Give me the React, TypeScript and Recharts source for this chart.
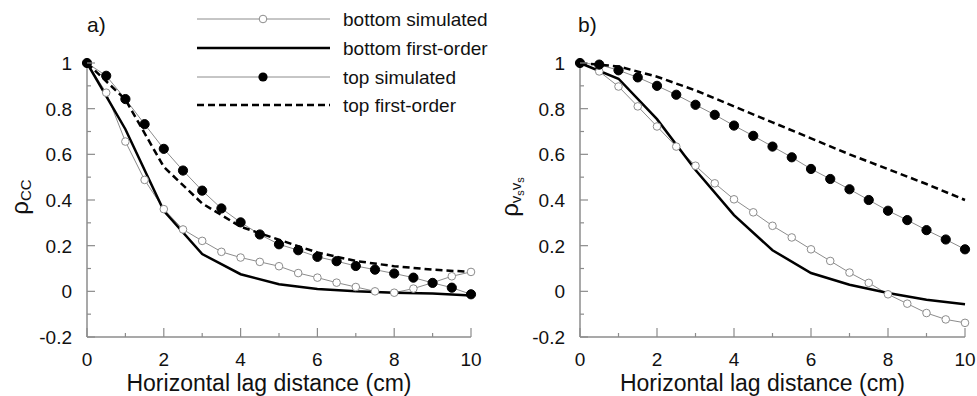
import React from "react";
import { LineChart, Line, XAxis, YAxis } from "recharts";

// lag distance (cm) for the simulated curves, and integer lags for first-order curves
const lags = [0, 0.5, 1, 1.5, 2, 2.5, 3, 3.5, 4, 4.5, 5, 5.5, 6, 6.5, 7, 7.5, 8, 8.5, 9, 9.5, 10];
const intLags = [0, 1, 2, 3, 4, 5, 6, 7, 8, 9, 10];

// panel a) rho_CC
const aBottomSim = [1, 0.87, 0.656, 0.488, 0.36, 0.271, 0.221, 0.173, 0.148, 0.129, 0.11, 0.08, 0.06, 0.038, 0.019, 0.0, -0.006, 0.012, 0.038, 0.066, 0.085];
const aTopSim = [1, 0.944, 0.842, 0.732, 0.624, 0.529, 0.441, 0.363, 0.302, 0.249, 0.206, 0.18, 0.151, 0.132, 0.111, 0.095, 0.078, 0.06, 0.037, 0.016, -0.013];
const aBottomFirst = [1, 0.71, 0.353, 0.163, 0.075, 0.031, 0.01, 0.0, -0.006, -0.01, -0.018];
const aTopFirst = [1, 0.84, 0.545, 0.385, 0.283, 0.226, 0.17, 0.133, 0.11, 0.095, 0.085];

// panel b) rho_VsVs
const bBottomSim = [1, 0.963, 0.897, 0.81, 0.722, 0.634, 0.55, 0.473, 0.403, 0.346, 0.287, 0.236, 0.184, 0.133, 0.082, 0.037, -0.013, -0.054, -0.095, -0.123, -0.138];
const bTopSim = [1, 0.993, 0.968, 0.937, 0.9, 0.861, 0.817, 0.773, 0.726, 0.681, 0.634, 0.587, 0.536, 0.492, 0.447, 0.4, 0.353, 0.312, 0.268, 0.227, 0.184];
const bBottomFirst = [1, 0.931, 0.754, 0.531, 0.334, 0.18, 0.08, 0.029, -0.007, -0.037, -0.057];
const bTopFirst = [1, 0.985, 0.94, 0.88, 0.81, 0.74, 0.67, 0.6, 0.535, 0.47, 0.4];

const xTicks = [0, 1, 2, 3, 4, 5, 6, 7, 8, 9, 10];
const yTicks = [-0.2, -0.1, 0, 0.1, 0.2, 0.3, 0.4, 0.5, 0.6, 0.7, 0.8, 0.9, 1];

const legendItems = ["bottom simulated", "bottom first-order", "top simulated", "top first-order"];

const FONT = '"Liberation Sans", Arial, Helvetica, sans-serif';
const AXIS = "#8c8c8c";
const SIM = "#8c8c8c";
const TEXT = "#111";

function buildRows(bs: number[], bf: number[], ts: number[], tf: number[]) {
  return lags.map((x, i) => {
    const k = intLags.indexOf(x);
    return {
      x,
      bs: bs[i],
      ts: ts[i],
      bf: k >= 0 ? bf[k] : null,
      tf: k >= 0 ? tf[k] : null,
    };
  });
}

function XTick(props: any) {
  const { x, y, payload } = props;
  const v = payload.value;
  const major = v % 2 === 0;
  return (
    <g>
      <line x1={x} x2={x} y1={y} y2={y - (major ? 9 : 4)} stroke={AXIS} strokeWidth={1.2} />
      {major && (
        <text x={x} y={y + 29} textAnchor="middle" fontFamily={FONT} fontSize={19} fill={TEXT}>
          {v}
        </text>
      )}
    </g>
  );
}

function YTick(props: any) {
  const { x, y, payload } = props;
  const v = payload.value;
  const major = Math.abs(Math.round(v * 10)) % 2 === 0;
  return (
    <g>
      <line x1={x} x2={x + (major ? 8 : 4)} y1={y} y2={y} stroke={AXIS} strokeWidth={1.2} />
      {major && (
        <text x={x - 15} y={y + 7} textAnchor="end" fontFamily={FONT} fontSize={19} fill={TEXT}>
          {Number(v.toFixed(1)).toString()}
        </text>
      )}
    </g>
  );
}

type PanelProps = {
  rows: any[];
  width: number;
  left: number;
  margin: { top: number; right: number; bottom: number; left: number };
  yLabel: React.ReactNode;
};

function Panel({ rows, width, left, margin, yLabel }: PanelProps) {
  const plotLeft = margin.left + 60;
  const plotRight = width - margin.right;
  const xLabelX = (plotLeft + plotRight) / 2 - 10;
  return (
    <div style={{ position: "absolute", left, top: 0 }}>
      <LineChart width={width} height={396} data={rows} margin={margin} style={{ overflow: "visible" }}>
        <XAxis
          dataKey="x"
          type="number"
          domain={[0, 10]}
          ticks={xTicks}
          interval={0}
          tickSize={0}
          tickMargin={0}
          tickLine={false}
          tick={<XTick />}
          axisLine={{ stroke: AXIS, strokeWidth: 1.5 }}
          height={30}
          label={{
            content: () => (
              <text x={xLabelX} y={391} textAnchor="middle" fontFamily={FONT} fontSize={23} fill={TEXT}>
                Horizontal lag distance (cm)
              </text>
            ),
          }}
        />
        <YAxis
          type="number"
          domain={[-0.2, 1]}
          ticks={yTicks}
          interval={0}
          tickSize={0}
          tickMargin={0}
          tickLine={false}
          tick={<YTick />}
          axisLine={{ stroke: AXIS, strokeWidth: 1.5 }}
          width={60}
          label={{ content: () => yLabel }}
        />
        <Line
          dataKey="bs"
          type="linear"
          stroke={SIM}
          strokeWidth={1}
          dot={{ r: 3.8, fill: "#fff", stroke: SIM, strokeWidth: 1 }}
          isAnimationActive={false}
        />
        <Line
          dataKey="bf"
          type="linear"
          stroke="#000"
          strokeWidth={2.5}
          dot={false}
          connectNulls
          isAnimationActive={false}
        />
        <Line
          dataKey="ts"
          type="linear"
          stroke={SIM}
          strokeWidth={1}
          dot={{ r: 4.6, fill: "#000", stroke: "#000", strokeWidth: 1 }}
          isAnimationActive={false}
        />
        <Line
          dataKey="tf"
          type="linear"
          stroke="#000"
          strokeWidth={2.5}
          strokeDasharray="7 4"
          dot={false}
          connectNulls
          isAnimationActive={false}
        />
      </LineChart>
    </div>
  );
}

function LegendOverlay() {
  const ys = [19, 48, 77, 105];
  return (
    <svg width={977} height={396} style={{ position: "absolute", left: 0, top: 0, pointerEvents: "none" }}>
      <text x={87} y={32} fontFamily={FONT} fontSize={21} fill={TEXT}>a)</text>
      <text x={578} y={32} fontFamily={FONT} fontSize={21} fill={TEXT}>b)</text>
      {legendItems.map((name, i) => {
        const y = ys[i];
        const thick = i === 1 || i === 3;
        return (
          <g key={name}>
            <line
              x1={197}
              x2={330}
              y1={y}
              y2={y}
              stroke={thick ? "#000" : SIM}
              strokeWidth={thick ? 2.5 : 1}
              strokeDasharray={i === 3 ? "7 4" : undefined}
            />
            {i === 0 && <circle cx={263} cy={y} r={3.8} fill="#fff" stroke={SIM} strokeWidth={1} />}
            {i === 2 && <circle cx={263} cy={y} r={4.6} fill="#000" />}
            <text x={343} y={y + 7} fontFamily={FONT} fontSize={19} fill={TEXT}>
              {name}
            </text>
          </g>
        );
      })}
    </svg>
  );
}

export default function App() {
  const rowsA = buildRows(aBottomSim, aBottomFirst, aTopSim, aTopFirst);
  const rowsB = buildRows(bBottomSim, bBottomFirst, bTopSim, bTopFirst);

  const yLabelA = (
    <text transform="rotate(-90, 28, 197)" x={28} y={197} textAnchor="middle" fontFamily={FONT} fontSize={24} fill={TEXT}>
      ρ<tspan fontSize={15} dy={3}>CC</tspan>
    </text>
  );
  const yLabelB = (
    <text transform="rotate(-90, 28, 197)" x={28} y={197} textAnchor="middle" fontFamily={FONT} fontSize={24} fill={TEXT}>
      ρ<tspan fontSize={15} dy={3}>v</tspan>
      <tspan fontSize={11} dy={3}>s</tspan>
      <tspan fontSize={15} dy={-3}>v</tspan>
      <tspan fontSize={11} dy={3}>s</tspan>
    </text>
  );

  return (
    <div style={{ position: "absolute", left: 0, top: 0, width: 977, height: 396, background: "#fff", overflow: "hidden" }}>
      <Panel rows={rowsA} width={490} left={0} margin={{ top: 63, right: 19, bottom: 29, left: 27 }} yLabel={yLabelA} />
      <Panel rows={rowsB} width={487} left={490} margin={{ top: 63, right: 12, bottom: 29, left: 30 }} yLabel={yLabelB} />
      <LegendOverlay />
    </div>
  );
}
